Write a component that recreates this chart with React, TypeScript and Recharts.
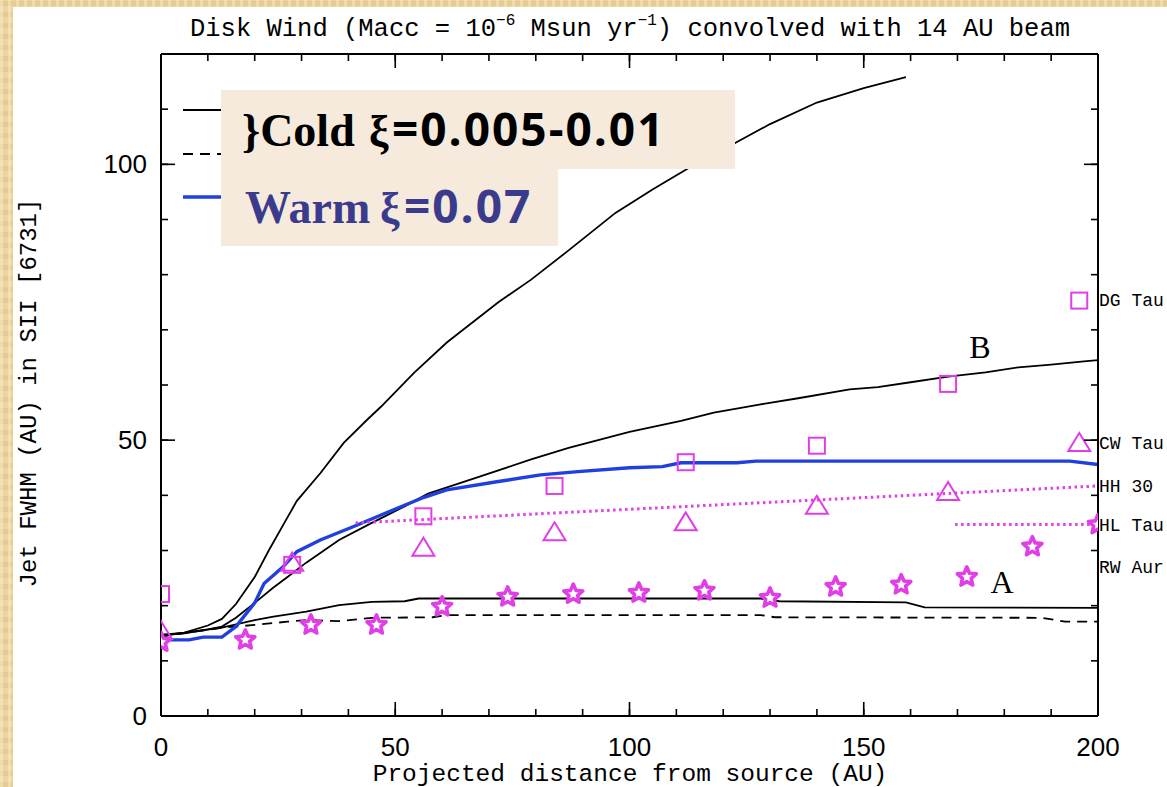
import React from 'react';
import { ComposedChart, Line, Scatter, XAxis, YAxis, ReferenceDot } from 'recharts';

type Pt = [number, number];

// disk wind model curves: [projected distance (AU), jet FWHM (AU)]
const coldOuter: Pt[] = [
  [0, 14.7], [5, 15.1], [10, 16.4], [13, 17.6], [16, 20.3], [20, 25.2], [23, 30], [26, 34.5],
  [29, 39], [34, 44], [39, 49.5], [44, 53.7], [47, 56.1], [54, 62.2], [61, 67.7], [72, 75],
  [79, 79.1], [87, 84.4], [97, 91.2], [105, 95.5], [113, 99.5], [120, 102.7], [130, 107.3],
  [140, 111.2], [150, 113.8], [159, 115.8],
];
const coldB: Pt[] = [
  [0, 14.7], [5, 15], [10, 15.7], [13, 16.2], [16, 17.8], [20, 20.5], [24, 23.3], [27, 25.2],
  [31, 27.8], [38, 31.9], [45, 35], [52, 38], [57, 40.3], [68, 43.4], [79, 46.5], [87, 48.6],
  [100, 51.5], [111, 53.5], [118, 55], [128, 56.5], [136, 57.6], [147, 59.2], [153, 59.6],
  [160, 60.5], [168, 61.5], [176, 62.3], [183, 63.2], [190, 63.7], [197, 64.3], [200, 64.5],
];
const coldA: Pt[] = [
  [0, 14.5], [13, 16], [20, 17.4], [24, 18], [31, 18.9], [38, 20.1], [45, 20.7], [52, 20.8],
  [55, 21.3], [128, 21.3], [132, 20.8], [159, 20.6], [163, 19.7], [200, 19.6],
];
const coldDashed: Pt[] = [
  [0, 14.4], [13, 16], [20, 16.5], [27, 17.1], [31, 17.4], [38, 17.2], [45, 17.8], [58, 17.9],
  [61, 18.3], [128, 18.3], [131, 17.9], [188, 17.8], [193, 17.1], [200, 17.1],
];
const warm: Pt[] = [
  [0, 13.8], [6, 13.8], [9, 14.3], [13, 14.3], [16, 16.2], [20, 20.5], [22, 24], [26, 27],
  [29, 29.8], [34, 31.9], [41, 34.3], [48, 36.8], [56, 39.6], [61, 41], [72, 42.5], [81, 43.7],
  [89, 44.3], [100, 45], [107, 45.2], [111, 45.9], [123, 45.9], [127, 46.2], [194, 46.2],
  [200, 45.6],
];

// straight fits through the HH 30 and HL Tau widths
const hh30Fit: Pt[] = [[41.5, 35], [200, 41.7]];
const hlTauFit: Pt[] = [[169.5, 34.7], [200, 34.7]];

// observed widths
const dgTau: Pt[] = [
  [0, 22.1], [28, 27.4], [56, 36.2], [84, 41.7], [112, 46], [140, 49], [168, 60.2], [196, 75.3],
];
const cwTau: Pt[] = [
  [0, 15.4], [28, 27.8], [56, 30.5], [84, 33.3], [112, 35.1], [140, 38.1], [168, 40.6], [196, 49.5],
];
const rwAur: Pt[] = [
  [0, 13.4], [18, 13.8], [32, 16.5], [46, 16.5], [60, 19.8], [74, 21.6], [88, 22.1], [102, 22.3],
  [116, 22.7], [130, 21.4], [144, 23.4], [158, 23.8], [172, 25.2], [186, 30.7], [200, 34.7],
];

// object names along the right-hand axis
const sourceNames = ['DG Tau', 'CW Tau', 'HH 30', 'HL Tau', 'RW Aur'];
const sourceLevels = [75.5, 49.6, 41.7, 34.7, 27];

// curve letters
const curveLetters = ['B', 'A'];
const curveLetterPos: Pt[] = [[174.8, 67], [179.5, 24.3]];

const xTicks = [0, 10, 20, 30, 40, 50, 60, 70, 80, 90, 100, 110, 120, 130, 140, 150, 160, 170, 180, 190, 200];
const yTicks = [0, 10, 20, 30, 40, 50, 60, 70, 80, 90, 100, 110, 120];

const W = 1167;
const H = 787;
const MAGENTA = '#e03ee6';
const BLUE = '#1f3fe0';
const MONO = '"Liberation Mono", "DejaVu Sans Mono", monospace';
const SANS = '"Liberation Sans", Arial, sans-serif';
const SERIF = '"Liberation Serif", "Times New Roman", serif';

// the axes draw every tick 7px inward; major ticks get another 7px here
const INNER = 7;
const isMajor = (v: number) => v % 50 === 0;
const tickStroke = { stroke: '#000', strokeWidth: 1.6 };

const toXY = (pts: Pt[]) => pts.map(([x, y]) => ({ x, y }));

const BottomTick = (props: any) => {
  const { x, y, payload } = props;
  const v = payload.value;
  const base = y + INNER;
  return (
    <g>
      {isMajor(v) && <rect x={x - 0.8} y={base - 14} width={1.6} height={14} fill="#000" />}
      {isMajor(v) && (
        <text x={x} y={base + 40} textAnchor="middle" fontFamily={SANS} fontSize={26} fill="#000">
          {v}
        </text>
      )}
    </g>
  );
};

const TopTick = (props: any) => {
  const { x, y, payload } = props;
  const base = y - INNER;
  return <g>{isMajor(payload.value) && <rect x={x - 0.8} y={base} width={1.6} height={14} fill="#000" />}</g>;
};

const LeftTick = (props: any) => {
  const { x, y, payload } = props;
  const v = payload.value;
  const base = x - INNER;
  return (
    <g>
      {isMajor(v) && <rect x={base} y={y - 0.8} width={14} height={1.6} fill="#000" />}
      {isMajor(v) && v <= 100 && (
        <text x={base - 14} y={y + 9} textAnchor="end" fontFamily={SANS} fontSize={26} fill="#000">
          {v}
        </text>
      )}
    </g>
  );
};

const RightTick = (props: any) => {
  const { x, y, payload } = props;
  const base = x + INNER;
  return <g>{isMajor(payload.value) && <rect x={base - 14} y={y - 0.8} width={14} height={1.6} fill="#000" />}</g>;
};

const SquareMark = (props: any) => {
  const { cx, cy } = props;
  return <rect x={cx - 8} y={cy - 8} width={16} height={16} fill="none" stroke={MAGENTA} strokeWidth={2} />;
};

const TriangleMark = (props: any) => {
  const { cx, cy } = props;
  return (
    <polygon
      points={`${cx},${cy - 10} ${cx - 11},${cy + 8} ${cx + 11},${cy + 8}`}
      fill="none"
      stroke={MAGENTA}
      strokeWidth={2}
    />
  );
};

const StarMark = (props: any) => {
  const { cx, cy } = props;
  const pts: string[] = [];
  for (let i = 0; i < 10; i++) {
    const a = -Math.PI / 2 + (i * Math.PI) / 5;
    const r = i % 2 === 0 ? 10 : 4.6;
    pts.push(`${cx + r * Math.cos(a)},${cy + r * Math.sin(a)}`);
  }
  return (
    <polygon points={pts.join(' ')} fill="#fff" stroke={MAGENTA} strokeWidth={3.6} strokeLinejoin="round" />
  );
};

const parchment =
  'repeating-linear-gradient(90deg, rgba(255,250,230,0.35) 0 3px, rgba(0,0,0,0) 3px 8px),' +
  'repeating-linear-gradient(0deg, rgba(190,150,70,0.15) 0 5px, rgba(0,0,0,0) 5px 11px),' +
  '#ecd59f';

const axisCommon = {
  type: 'number' as const,
  interval: 0 as const,
  allowDataOverflow: true,
  tickSize: -INNER,
  tickMargin: 0,
  tickLine: tickStroke,
  axisLine: { stroke: '#000', strokeWidth: 2 },
};

export default function App() {
  return (
    <div style={{ position: 'absolute', left: 0, top: 0, width: W, height: H, overflow: 'hidden', background: parchment }}>
      <div style={{ position: 'absolute', left: 13, top: 7, right: 0, bottom: 0, background: '#fff' }} />

      <div style={{ position: 'absolute', left: 0, top: 0 }}>
        <ComposedChart width={W} height={H} margin={{ top: 44, right: 59, bottom: 41, left: 111 }}>
          <XAxis {...axisCommon} dataKey="x" domain={[0, 200]} ticks={xTicks} height={30} tick={BottomTick} />
          <XAxis {...axisCommon} xAxisId="top" dataKey="x" orientation="top" domain={[0, 200]} ticks={xTicks} height={10} tick={TopTick} />
          <YAxis {...axisCommon} dataKey="y" domain={[0, 120]} ticks={yTicks} width={50} tick={LeftTick} />
          <YAxis {...axisCommon} yAxisId="right" dataKey="y" orientation="right" domain={[0, 120]} ticks={yTicks} width={10} tick={RightTick} />

          <Line data={toXY(coldOuter)} dataKey="y" type="linear" stroke="#000" strokeWidth={1.8} dot={false} isAnimationActive={false} />
          <Line data={toXY(coldB)} dataKey="y" type="linear" stroke="#000" strokeWidth={1.8} dot={false} isAnimationActive={false} />
          <Line data={toXY(coldA)} dataKey="y" type="linear" stroke="#000" strokeWidth={1.8} dot={false} isAnimationActive={false} />
          <Line data={toXY(coldDashed)} dataKey="y" type="linear" stroke="#000" strokeWidth={1.8} strokeDasharray="10 7" dot={false} isAnimationActive={false} />
          <Line data={toXY(warm)} dataKey="y" type="linear" stroke={BLUE} strokeWidth={3.4} dot={false} isAnimationActive={false} />
          <Line data={toXY(hh30Fit)} dataKey="y" type="linear" stroke={MAGENTA} strokeWidth={3} strokeDasharray="2.5 3.5" dot={false} isAnimationActive={false} />
          {/* same scales as the main axes; ties the frame's top/right axes to a series */}
          <Line data={toXY(hlTauFit)} xAxisId="top" yAxisId="right" dataKey="y" type="linear" stroke={MAGENTA} strokeWidth={3} strokeDasharray="2.5 3.5" dot={false} isAnimationActive={false} />

          <Scatter data={toXY(dgTau)} dataKey="y" shape={SquareMark} isAnimationActive={false} />
          <Scatter data={toXY(cwTau)} dataKey="y" shape={TriangleMark} isAnimationActive={false} />
          <Scatter data={toXY(rwAur)} dataKey="y" shape={StarMark} isAnimationActive={false} />

          {sourceNames.map((name, i) => (
            <ReferenceDot
              key={name}
              x={200}
              y={sourceLevels[i]}
              r={0}
              stroke="none"
              fill="none"
              label={{ value: name, position: 'right', offset: 1, fontFamily: MONO, fontSize: 18, fill: '#000' }}
            />
          ))}
          {curveLetters.map((c, i) => (
            <ReferenceDot
              key={c}
              x={curveLetterPos[i][0]}
              y={curveLetterPos[i][1]}
              r={0}
              stroke="none"
              fill="none"
              label={{ value: c, position: 'center', fontFamily: SERIF, fontSize: 32, fill: '#000' }}
            />
          ))}
        </ComposedChart>
      </div>

      <svg width={W} height={H} style={{ position: 'absolute', left: 0, top: 0, pointerEvents: 'none' }}>
        <text x={630} y={36} textAnchor="middle" fontFamily={MONO} fontSize={25.5} fill="#000">
          Disk Wind (Macc = 10
          <tspan dy={-11} fontSize={16}>−6</tspan>
          <tspan dy={11}> Msun yr</tspan>
          <tspan dy={-11} fontSize={16}>−1</tspan>
          <tspan dy={11}>) convolved with 14 AU beam</tspan>
        </text>
        <text x={630} y={781} textAnchor="middle" fontFamily={MONO} fontSize={24.5} fill="#000">
          Projected distance from source (AU)
        </text>
        <text transform="translate(36,393) rotate(-90)" textAnchor="middle" fontFamily={MONO} fontSize={24} fill="#000">
          Jet FWHM (AU) in SII [6731]
        </text>

        {/* legend samples, partly covered by the label box */}
        <line x1={183} y1={110} x2={230} y2={110} stroke="#000" strokeWidth={1.8} />
        <line x1={183} y1={154} x2={230} y2={154} stroke="#000" strokeWidth={1.8} strokeDasharray="10 7" />
        <line x1={183} y1={197} x2={230} y2={197} stroke={BLUE} strokeWidth={3.4} />
        <polygon points="221,90 735,90 735,169 558,169 558,246 221,246" fill="#f5eadc" />

        <text y={146} fontWeight="bold" fill="#000">
          <tspan x={242} fontFamily={SERIF} fontSize={46}>{'}Cold'}</tspan>
          <tspan x={369} fontFamily={SERIF} fontSize={44}>ξ</tspan>
          <tspan x={392} fontFamily='"Open Sans", sans-serif' fontSize={46} letterSpacing={2}>=0.005-0.01</tspan>
        </text>
        <text y={223} fontWeight="bold" fill="#3b3b8e">
          <tspan x={245} fontFamily={SERIF} fontSize={46}>Warm</tspan>
          <tspan x={380} fontFamily={SERIF} fontSize={44}>ξ</tspan>
          <tspan x={404} fontFamily='"Open Sans", sans-serif' fontSize={46} letterSpacing={2}>=0.07</tspan>
        </text>
      </svg>
    </div>
  );
}
